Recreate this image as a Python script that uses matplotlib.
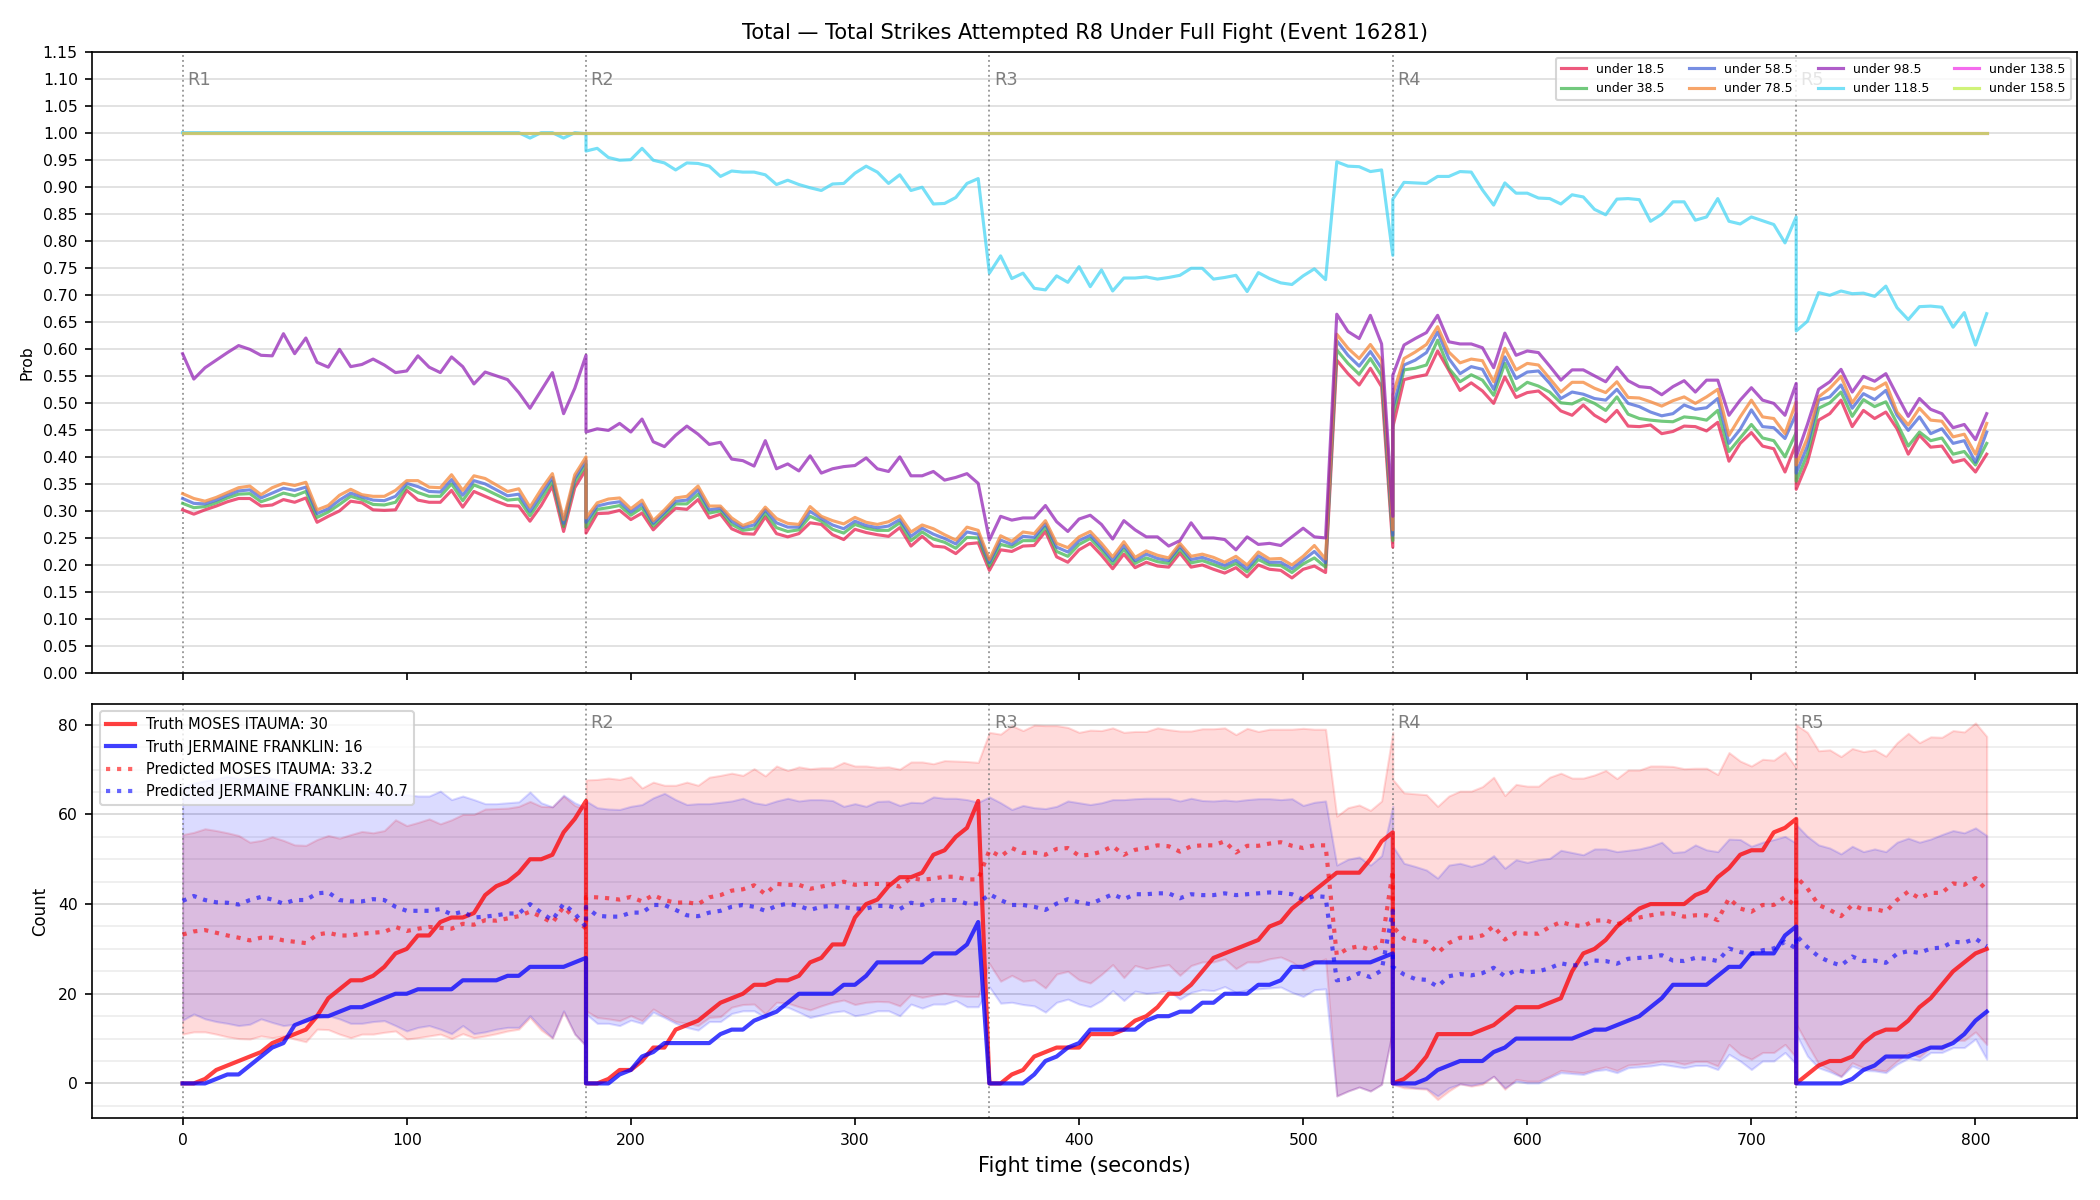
import numpy as np
import matplotlib
matplotlib.use("Agg")
import matplotlib.pyplot as plt
from matplotlib.ticker import MultipleLocator

# --- data -------------------------------------------------------------------
round_starts = [0, 180, 360, 540, 720]
round_names = ["R1", "R2", "R3", "R4", "R5"]

# sample times (s); round boundaries appear twice (end of one / start of next)
t_r1 = list(range(0, 181, 5))
t_r2 = list(range(180, 356, 5))
t_r3 = list(range(360, 541, 5))
t_r4 = list(range(540, 721, 5))
t_r5 = list(range(720, 806, 5))
seconds = t_r1 + t_r2 + t_r3 + t_r4 + t_r5

# P(total strikes attempted R8 under X)
u18 = ([0.302, 0.294, 0.302, 0.309, 0.317, 0.323, 0.323, 0.309, 0.311, 0.321, 0.316, 0.324, 0.279, 0.290, 0.300, 0.318, 0.315, 0.302, 0.301, 0.302, 0.338, 0.320, 0.316, 0.316, 0.338, 0.307, 0.336, 0.327, 0.318, 0.310, 0.309, 0.281, 0.310, 0.346, 0.262, 0.343, 0.377]
       + [0.259, 0.295, 0.296, 0.301, 0.284, 0.296, 0.265, 0.286, 0.305, 0.303, 0.321, 0.287, 0.294, 0.267, 0.258, 0.257, 0.289, 0.258, 0.252, 0.258, 0.278, 0.275, 0.256, 0.247, 0.266, 0.260, 0.256, 0.253, 0.269, 0.235, 0.253, 0.235, 0.233, 0.221, 0.239, 0.241]
       + [0.190, 0.228, 0.225, 0.235, 0.236, 0.262, 0.215, 0.205, 0.228, 0.240, 0.218, 0.193, 0.220, 0.195, 0.205, 0.198, 0.196, 0.222, 0.196, 0.200, 0.192, 0.185, 0.195, 0.178, 0.200, 0.192, 0.190, 0.176, 0.192, 0.198, 0.186, 0.579, 0.554, 0.533, 0.564, 0.530, 0.233]
       + [0.455, 0.543, 0.548, 0.552, 0.596, 0.560, 0.523, 0.537, 0.522, 0.499, 0.548, 0.510, 0.519, 0.522, 0.505, 0.485, 0.477, 0.496, 0.477, 0.465, 0.486, 0.457, 0.456, 0.459, 0.443, 0.447, 0.457, 0.456, 0.448, 0.464, 0.392, 0.425, 0.445, 0.420, 0.415, 0.372, 0.425]
       + [0.340, 0.390, 0.468, 0.480, 0.505, 0.456, 0.486, 0.471, 0.483, 0.452, 0.405, 0.440, 0.418, 0.420, 0.390, 0.395, 0.372, 0.405])
u38 = ([0.314, 0.306, 0.308, 0.315, 0.324, 0.331, 0.332, 0.317, 0.324, 0.333, 0.328, 0.336, 0.288, 0.298, 0.312, 0.327, 0.321, 0.312, 0.311, 0.316, 0.345, 0.334, 0.327, 0.327, 0.350, 0.319, 0.348, 0.340, 0.330, 0.320, 0.322, 0.291, 0.322, 0.355, 0.271, 0.353, 0.386]
       + [0.270, 0.303, 0.306, 0.310, 0.292, 0.306, 0.272, 0.292, 0.313, 0.313, 0.331, 0.296, 0.300, 0.275, 0.264, 0.267, 0.296, 0.269, 0.262, 0.265, 0.290, 0.281, 0.266, 0.259, 0.275, 0.268, 0.264, 0.264, 0.278, 0.245, 0.261, 0.248, 0.242, 0.231, 0.251, 0.250]
       + [0.198, 0.238, 0.233, 0.245, 0.245, 0.270, 0.225, 0.216, 0.238, 0.249, 0.227, 0.202, 0.229, 0.203, 0.213, 0.206, 0.203, 0.229, 0.204, 0.208, 0.201, 0.193, 0.203, 0.187, 0.210, 0.200, 0.199, 0.186, 0.202, 0.213, 0.196, 0.598, 0.573, 0.553, 0.582, 0.550, 0.245]
       + [0.475, 0.561, 0.564, 0.570, 0.616, 0.564, 0.539, 0.552, 0.542, 0.514, 0.573, 0.523, 0.538, 0.531, 0.520, 0.500, 0.498, 0.508, 0.499, 0.486, 0.511, 0.479, 0.471, 0.468, 0.466, 0.465, 0.474, 0.472, 0.468, 0.486, 0.410, 0.435, 0.460, 0.435, 0.430, 0.400, 0.445]
       + [0.355, 0.405, 0.490, 0.500, 0.520, 0.475, 0.506, 0.493, 0.502, 0.462, 0.420, 0.446, 0.430, 0.435, 0.405, 0.410, 0.385, 0.425])
u58 = ([0.323, 0.314, 0.313, 0.320, 0.329, 0.337, 0.339, 0.324, 0.333, 0.342, 0.338, 0.344, 0.295, 0.304, 0.320, 0.333, 0.326, 0.320, 0.319, 0.327, 0.351, 0.345, 0.336, 0.335, 0.358, 0.329, 0.356, 0.350, 0.339, 0.328, 0.331, 0.299, 0.331, 0.362, 0.277, 0.360, 0.393]
       + [0.279, 0.309, 0.314, 0.317, 0.298, 0.313, 0.277, 0.297, 0.318, 0.320, 0.339, 0.302, 0.305, 0.281, 0.269, 0.274, 0.302, 0.278, 0.270, 0.270, 0.299, 0.286, 0.274, 0.267, 0.281, 0.273, 0.269, 0.272, 0.284, 0.253, 0.268, 0.257, 0.249, 0.239, 0.261, 0.257]
       + [0.204, 0.246, 0.238, 0.253, 0.251, 0.276, 0.233, 0.224, 0.245, 0.255, 0.233, 0.208, 0.236, 0.208, 0.220, 0.212, 0.208, 0.235, 0.210, 0.214, 0.207, 0.199, 0.209, 0.193, 0.217, 0.205, 0.205, 0.193, 0.209, 0.225, 0.204, 0.615, 0.588, 0.568, 0.595, 0.564, 0.255]
       + [0.490, 0.570, 0.579, 0.593, 0.631, 0.582, 0.554, 0.567, 0.562, 0.525, 0.585, 0.545, 0.557, 0.559, 0.536, 0.508, 0.520, 0.516, 0.508, 0.505, 0.525, 0.499, 0.493, 0.483, 0.476, 0.480, 0.496, 0.488, 0.491, 0.508, 0.425, 0.451, 0.487, 0.456, 0.454, 0.434, 0.480]
       + [0.370, 0.420, 0.505, 0.511, 0.533, 0.490, 0.517, 0.506, 0.523, 0.477, 0.449, 0.474, 0.443, 0.452, 0.425, 0.430, 0.390, 0.446])
u78 = ([0.332, 0.323, 0.318, 0.325, 0.334, 0.343, 0.346, 0.330, 0.343, 0.351, 0.347, 0.353, 0.302, 0.310, 0.329, 0.340, 0.330, 0.327, 0.327, 0.338, 0.356, 0.356, 0.344, 0.343, 0.367, 0.338, 0.365, 0.360, 0.348, 0.336, 0.341, 0.307, 0.340, 0.369, 0.284, 0.367, 0.400]
       + [0.287, 0.315, 0.322, 0.324, 0.304, 0.320, 0.282, 0.302, 0.324, 0.327, 0.346, 0.309, 0.309, 0.287, 0.273, 0.281, 0.307, 0.286, 0.277, 0.275, 0.308, 0.290, 0.282, 0.276, 0.288, 0.279, 0.275, 0.280, 0.291, 0.261, 0.274, 0.267, 0.256, 0.246, 0.270, 0.264]
       + [0.210, 0.254, 0.244, 0.261, 0.258, 0.282, 0.240, 0.232, 0.252, 0.262, 0.240, 0.215, 0.243, 0.214, 0.226, 0.218, 0.213, 0.240, 0.216, 0.220, 0.214, 0.205, 0.216, 0.200, 0.224, 0.211, 0.212, 0.200, 0.216, 0.236, 0.211, 0.627, 0.601, 0.582, 0.608, 0.579, 0.265]
       + [0.515, 0.582, 0.594, 0.608, 0.641, 0.594, 0.574, 0.581, 0.578, 0.539, 0.601, 0.561, 0.573, 0.570, 0.545, 0.520, 0.538, 0.538, 0.527, 0.519, 0.539, 0.510, 0.509, 0.502, 0.494, 0.504, 0.511, 0.499, 0.511, 0.525, 0.440, 0.474, 0.505, 0.474, 0.471, 0.443, 0.502]
       + [0.385, 0.435, 0.511, 0.527, 0.549, 0.500, 0.530, 0.525, 0.537, 0.483, 0.459, 0.490, 0.468, 0.466, 0.437, 0.442, 0.405, 0.462])
u98 = ([0.591, 0.544, 0.565, 0.579, 0.593, 0.606, 0.599, 0.588, 0.587, 0.628, 0.591, 0.620, 0.575, 0.566, 0.599, 0.567, 0.571, 0.581, 0.570, 0.556, 0.559, 0.587, 0.566, 0.556, 0.585, 0.567, 0.535, 0.557, 0.550, 0.543, 0.519, 0.490, 0.523, 0.556, 0.480, 0.527, 0.588]
       + [0.446, 0.452, 0.449, 0.462, 0.446, 0.470, 0.428, 0.419, 0.440, 0.457, 0.442, 0.423, 0.427, 0.396, 0.393, 0.383, 0.430, 0.378, 0.387, 0.374, 0.402, 0.370, 0.378, 0.382, 0.384, 0.398, 0.378, 0.373, 0.400, 0.365, 0.365, 0.373, 0.357, 0.362, 0.369, 0.351]
       + [0.246, 0.290, 0.283, 0.287, 0.287, 0.310, 0.280, 0.262, 0.285, 0.292, 0.275, 0.248, 0.282, 0.265, 0.252, 0.252, 0.235, 0.245, 0.278, 0.250, 0.250, 0.247, 0.228, 0.252, 0.238, 0.240, 0.236, 0.252, 0.268, 0.252, 0.250, 0.664, 0.632, 0.619, 0.662, 0.609, 0.290]
       + [0.551, 0.607, 0.619, 0.630, 0.662, 0.613, 0.609, 0.609, 0.602, 0.565, 0.629, 0.588, 0.596, 0.593, 0.568, 0.542, 0.561, 0.561, 0.550, 0.539, 0.566, 0.541, 0.530, 0.528, 0.515, 0.530, 0.541, 0.520, 0.542, 0.542, 0.477, 0.505, 0.528, 0.505, 0.499, 0.477, 0.536]
       + [0.400, 0.460, 0.525, 0.539, 0.562, 0.520, 0.549, 0.540, 0.554, 0.514, 0.475, 0.508, 0.488, 0.480, 0.454, 0.460, 0.432, 0.480])
u118 = ([1.0] * 31 + [0.990, 1.0, 1.0, 0.990, 1.0, 0.998]
        + [0.966, 0.971, 0.954, 0.949, 0.950, 0.971, 0.949, 0.944, 0.931, 0.944, 0.943, 0.938, 0.919, 0.929, 0.927, 0.927, 0.922, 0.904, 0.912, 0.904, 0.898, 0.893, 0.905, 0.906, 0.925, 0.938, 0.927, 0.906, 0.922, 0.893, 0.899, 0.868, 0.869, 0.880, 0.906, 0.915]
        + [0.740, 0.772, 0.730, 0.740, 0.712, 0.709, 0.735, 0.723, 0.752, 0.715, 0.746, 0.707, 0.731, 0.731, 0.733, 0.729, 0.732, 0.736, 0.749, 0.749, 0.729, 0.732, 0.736, 0.706, 0.741, 0.730, 0.722, 0.719, 0.735, 0.748, 0.728, 0.946, 0.938, 0.937, 0.928, 0.931, 0.773]
        + [0.877, 0.908, 0.907, 0.906, 0.919, 0.919, 0.928, 0.927, 0.894, 0.866, 0.907, 0.888, 0.888, 0.879, 0.878, 0.868, 0.885, 0.881, 0.858, 0.848, 0.877, 0.878, 0.876, 0.836, 0.849, 0.872, 0.872, 0.838, 0.844, 0.878, 0.836, 0.831, 0.844, 0.837, 0.830, 0.796, 0.844]
        + [0.633, 0.651, 0.704, 0.699, 0.707, 0.702, 0.703, 0.697, 0.716, 0.676, 0.654, 0.678, 0.679, 0.677, 0.640, 0.667, 0.607, 0.665])
u138 = [1.0] * len(seconds)
u158 = [1.0] * len(seconds)

line_labels = ["under 18.5", "under 38.5", "under 58.5", "under 78.5",
               "under 98.5", "under 118.5", "under 138.5", "under 158.5"]
line_colors = ["#e6194b", "#3cb44b", "#4363d8", "#f58231",
               "#911eb4", "#42d4f4", "#f032e6", "#bfef45"]

# per-round cumulative counts
fighter_a = "MOSES ITAUMA"
fighter_b = "JERMAINE FRANKLIN"
truth_a = ([0, 0, 1, 3, 4, 5, 6, 7, 9, 10, 11, 12, 15, 19, 21, 23, 23, 24, 26, 29, 30, 33, 33, 36, 37, 37, 38, 42, 44, 45, 47, 50, 50, 51, 56, 59, 63]
           + [0, 0, 1, 3, 3, 5, 8, 8, 12, 13, 14, 16, 18, 19, 20, 22, 22, 23, 23, 24, 27, 28, 31, 31, 37, 40, 41, 44, 46, 46, 47, 51, 52, 55, 57, 63]
           + [0, 0, 2, 3, 6, 7, 8, 8, 8, 11, 11, 11, 12, 14, 15, 17, 20, 20, 22, 25, 28, 29, 30, 31, 32, 35, 36, 39, 41, 43, 45, 47, 47, 47, 50, 54, 56]
           + [0, 1, 3, 6, 11, 11, 11, 11, 12, 13, 15, 17, 17, 17, 18, 19, 25, 29, 30, 32, 35, 37, 39, 40, 40, 40, 40, 42, 43, 46, 48, 51, 52, 52, 56, 57, 59]
           + [0, 2, 4, 5, 5, 6, 9, 11, 12, 12, 14, 17, 19, 22, 25, 27, 29, 30])
truth_b = ([0, 0, 0, 1, 2, 2, 4, 6, 8, 9, 13, 14, 15, 15, 16, 17, 17, 18, 19, 20, 20, 21, 21, 21, 21, 23, 23, 23, 23, 24, 24, 26, 26, 26, 26, 27, 28]
           + [0, 0, 0, 2, 3, 6, 7, 9, 9, 9, 9, 9, 11, 12, 12, 14, 15, 16, 18, 20, 20, 20, 20, 22, 22, 24, 27, 27, 27, 27, 27, 29, 29, 29, 31, 36]
           + [0, 0, 0, 0, 2, 5, 6, 8, 9, 12, 12, 12, 12, 12, 14, 15, 15, 16, 16, 18, 18, 20, 20, 20, 22, 22, 23, 26, 26, 27, 27, 27, 27, 27, 27, 28, 29]
           + [0, 0, 0, 1, 3, 4, 5, 5, 5, 7, 8, 10, 10, 10, 10, 10, 10, 11, 12, 12, 13, 14, 15, 17, 19, 22, 22, 22, 22, 24, 26, 26, 29, 29, 29, 33, 35]
           + [0, 0, 0, 0, 0, 1, 3, 4, 6, 6, 6, 7, 8, 8, 9, 11, 14, 16])
pred_a = ([33.2, 33.9, 34.2, 33.6, 33.0, 32.5, 31.9, 32.5, 32.5, 31.9, 31.6, 31.3, 33.2, 33.6, 33.0, 33.0, 33.4, 33.6, 33.8, 34.9, 34.0, 34.5, 34.9, 34.7, 34.5, 35.6, 35.4, 36.4, 36.3, 36.8, 37.3, 38.3, 37.2, 35.8, 39.4, 36.8, 34.5]
          + [41.6, 41.5, 41.3, 41.0, 41.6, 40.6, 42.0, 40.9, 40.3, 40.4, 40.0, 41.5, 42.0, 43.0, 43.3, 44.2, 42.2, 44.5, 44.3, 44.3, 43.4, 43.9, 44.4, 45.0, 44.3, 44.5, 44.5, 44.5, 43.9, 45.8, 45.4, 45.7, 46.1, 46.1, 45.5, 45.5]
          + [52.0, 50.6, 52.5, 51.4, 51.5, 51.0, 52.3, 52.5, 50.8, 51.0, 51.7, 52.9, 51.0, 52.1, 52.5, 53.1, 52.9, 51.7, 52.9, 53.1, 53.1, 54.0, 51.5, 53.0, 53.0, 53.5, 53.8, 53.0, 52.5, 53.1, 53.1, 28.6, 30.1, 30.6, 29.8, 30.8, 47.5]
          + [35.0, 32.3, 31.8, 31.6, 29.1, 31.3, 32.5, 32.5, 33.0, 35.1, 32.1, 33.6, 33.4, 33.4, 34.9, 36.0, 35.3, 35.1, 36.3, 36.4, 35.5, 36.4, 37.0, 37.5, 37.9, 37.9, 37.2, 37.5, 37.5, 36.4, 41.3, 39.0, 38.3, 39.8, 39.8, 41.6, 39.4]
          + [46.1, 43.5, 39.8, 38.7, 37.3, 39.8, 38.8, 38.9, 38.3, 40.9, 42.8, 41.3, 42.5, 42.5, 44.6, 44.3, 45.8, 43.1])
pred_b = ([40.7, 41.8, 40.9, 40.4, 40.3, 39.9, 40.9, 41.6, 41.0, 40.1, 40.9, 40.9, 42.4, 42.6, 40.9, 40.6, 40.6, 41.1, 40.9, 39.4, 38.5, 38.5, 38.5, 38.9, 37.7, 38.3, 37.0, 37.2, 37.5, 37.9, 37.9, 40.0, 38.1, 36.4, 40.1, 37.9, 34.9]
          + [39.4, 37.4, 37.2, 37.2, 38.1, 38.1, 39.8, 39.8, 38.7, 37.5, 37.3, 38.1, 38.5, 39.4, 39.8, 39.4, 38.5, 39.6, 40.1, 39.6, 38.7, 39.4, 39.6, 39.3, 39.0, 39.0, 39.6, 39.6, 38.9, 40.3, 39.8, 40.9, 40.9, 40.9, 40.1, 40.1]
          + [42.2, 40.9, 39.8, 39.8, 39.4, 38.7, 40.1, 41.1, 40.4, 40.0, 41.1, 42.2, 41.1, 42.2, 42.2, 42.4, 42.4, 41.3, 42.2, 42.0, 42.0, 42.4, 42.0, 42.2, 42.4, 42.6, 42.5, 42.2, 41.0, 41.8, 41.6, 23.0, 23.3, 24.6, 23.7, 25.2, 38.5]
          + [26.0, 24.3, 23.3, 23.1, 21.6, 23.9, 24.4, 24.1, 24.6, 25.8, 23.9, 25.3, 24.8, 25.0, 25.7, 26.8, 26.3, 26.5, 27.4, 27.3, 26.7, 27.8, 28.0, 28.2, 28.6, 27.4, 27.3, 28.0, 27.8, 27.3, 30.1, 29.3, 28.9, 29.7, 30.1, 31.6, 30.1]
          + [33.0, 30.4, 28.3, 27.1, 26.3, 28.3, 27.3, 27.4, 26.9, 28.9, 29.5, 29.1, 30.1, 30.3, 31.6, 31.4, 32.3, 30.6])
hi_a = ([55.5, 56.0, 56.8, 56.4, 55.9, 55.3, 53.8, 54.2, 55.0, 54.2, 53.2, 53.1, 54.4, 55.3, 54.7, 55.5, 56.2, 55.9, 56.4, 58.8, 57.5, 58.2, 59.0, 57.9, 58.8, 60.0, 60.0, 61.2, 61.3, 61.4, 61.8, 62.9, 61.8, 61.7, 64.1, 62.0, 61.1]
        + [67.7, 67.8, 68.1, 67.8, 68.4, 65.9, 67.2, 66.5, 66.5, 67.2, 66.5, 68.3, 68.7, 69.2, 68.7, 70.2, 68.6, 70.8, 69.8, 70.6, 70.2, 70.4, 70.4, 71.6, 70.8, 70.8, 70.5, 70.6, 70.1, 71.7, 71.7, 71.3, 72.0, 71.9, 71.8, 71.6]
        + [78.3, 77.9, 79.8, 78.7, 79.9, 79.8, 79.8, 79.4, 78.3, 78.8, 78.7, 79.3, 78.3, 78.5, 78.5, 79.3, 78.9, 78.6, 78.6, 79.1, 79.1, 79.3, 77.8, 79.2, 78.5, 79.0, 79.0, 79.0, 79.2, 79.0, 79.0, 59.6, 61.5, 62.1, 60.9, 63.0, 78.3]
        + [67.8, 64.8, 64.6, 64.4, 61.8, 64.1, 65.2, 65.2, 66.2, 68.3, 64.2, 66.7, 66.3, 66.3, 68.3, 69.2, 68.1, 68.1, 68.8, 69.8, 68.0, 69.9, 69.9, 70.8, 70.8, 70.7, 70.2, 70.3, 70.3, 68.9, 73.8, 71.9, 70.8, 72.3, 72.1, 73.9, 70.4]
        + [80.0, 78.3, 74.2, 74.4, 72.9, 74.7, 74.0, 74.4, 73.0, 76.0, 78.1, 76.0, 77.3, 77.2, 78.7, 78.4, 80.4, 77.4])
lo_a = ([11.0, 11.5, 11.5, 11.0, 10.4, 10.0, 9.9, 10.6, 10.2, 10.6, 9.9, 9.3, 12.1, 12.0, 11.0, 10.2, 11.0, 11.0, 11.4, 11.7, 9.9, 10.2, 10.6, 11.0, 10.0, 11.1, 10.2, 10.6, 11.1, 11.7, 12.1, 14.7, 11.9, 10.1, 15.9, 11.0, 8.4]
        + [16.2, 14.7, 14.4, 14.0, 15.1, 14.0, 16.6, 15.1, 13.8, 13.4, 12.9, 14.7, 14.9, 17.0, 17.6, 17.7, 15.5, 18.1, 17.9, 17.1, 16.4, 17.3, 18.1, 18.6, 17.6, 18.1, 18.3, 18.2, 17.3, 19.8, 19.2, 19.7, 20.1, 19.6, 19.4, 19.4]
        + [26.7, 22.8, 24.1, 22.8, 23.1, 21.3, 24.4, 25.0, 23.1, 22.4, 24.3, 26.5, 23.6, 26.3, 25.6, 26.1, 26.5, 24.1, 26.3, 27.1, 27.1, 27.8, 25.6, 27.1, 27.1, 27.8, 28.2, 27.1, 25.3, 26.7, 27.8, -2.8, -1.7, -0.8, -1.7, -0.2, 12.0]
        + [-0.2, -1.0, -1.1, -1.3, -3.6, -1.7, -0.1, -0.6, -0.2, 1.6, -1.3, 0.9, 0.5, 0.5, 1.6, 2.9, 2.6, 2.4, 3.1, 3.7, 2.9, 4.1, 4.3, 4.6, 5.0, 4.9, 4.3, 4.9, 4.9, 3.9, 8.7, 6.5, 5.4, 6.9, 6.9, 8.7, 5.8]
        + [13.2, 8.7, 4.4, 3.1, 1.6, 4.6, 3.5, 3.1, 2.8, 5.0, 6.9, 5.9, 8.0, 7.6, 9.6, 9.6, 11.5, 8.7])
hi_b = ([66.0, 67.0, 67.5, 68.0, 68.5, 68.0, 68.3, 68.6, 68.0, 67.5, 67.0, 66.5, 66.8, 66.0, 65.5, 65.0, 65.3, 64.8, 64.5, 64.6, 64.4, 64.1, 64.1, 65.2, 63.3, 64.1, 63.3, 62.4, 62.4, 62.6, 62.8, 65.0, 62.6, 61.7, 64.3, 62.6, 61.5]
        + [63.0, 61.5, 61.2, 61.1, 61.8, 62.2, 63.7, 64.7, 63.3, 62.2, 62.4, 62.4, 62.7, 63.0, 63.6, 62.6, 62.2, 63.0, 63.6, 63.0, 63.3, 63.3, 63.1, 61.8, 62.4, 61.8, 62.9, 63.0, 62.0, 62.7, 62.6, 63.9, 63.6, 63.6, 63.3, 62.7]
        + [63.9, 62.6, 61.1, 62.0, 61.5, 61.3, 61.8, 63.0, 62.6, 62.2, 62.6, 63.3, 63.3, 63.5, 63.6, 63.6, 63.6, 63.0, 63.6, 63.1, 63.0, 63.2, 63.0, 63.3, 63.5, 63.5, 63.3, 63.5, 62.0, 62.7, 63.0, 48.7, 50.0, 50.5, 48.7, 50.8, 61.8]
        + [52.9, 49.1, 48.4, 47.6, 45.8, 48.7, 49.1, 48.4, 49.1, 50.8, 48.0, 49.9, 49.3, 49.9, 50.2, 52.0, 51.5, 51.0, 52.3, 52.3, 51.7, 52.0, 52.3, 52.9, 53.8, 51.5, 51.7, 53.2, 52.1, 51.7, 54.5, 54.4, 52.9, 53.8, 54.4, 55.1, 53.6]
        + [57.7, 55.1, 53.2, 52.5, 51.2, 52.9, 51.7, 52.3, 51.7, 53.8, 54.7, 53.8, 54.5, 55.5, 56.4, 55.9, 57.0, 55.3])
lo_b = ([14.1, 15.5, 14.4, 13.8, 13.4, 12.9, 13.2, 14.4, 13.6, 12.9, 13.2, 13.8, 14.7, 15.1, 14.4, 13.4, 13.4, 13.8, 14.0, 12.9, 11.7, 12.5, 12.9, 12.1, 11.1, 12.9, 11.1, 11.5, 12.1, 12.5, 12.5, 15.1, 12.5, 10.2, 16.2, 11.0, 8.4]
        + [15.5, 13.4, 13.4, 12.9, 14.1, 13.4, 15.9, 14.7, 13.4, 12.5, 11.9, 13.8, 13.8, 15.6, 16.2, 16.2, 14.7, 17.1, 17.0, 15.9, 14.7, 15.3, 15.9, 16.2, 15.1, 15.5, 16.2, 16.2, 15.1, 17.7, 16.8, 17.7, 17.7, 18.5, 17.1, 17.1]
        + [21.5, 17.9, 18.1, 17.6, 17.3, 15.9, 18.1, 18.8, 17.7, 17.1, 18.5, 20.7, 18.5, 20.6, 20.1, 20.3, 20.7, 18.8, 20.3, 20.9, 20.7, 21.6, 20.3, 20.9, 21.1, 21.3, 21.5, 20.3, 19.4, 20.9, 21.1, -2.8, -1.7, -0.8, -1.7, -0.2, 12.1]
        + [-0.2, -0.6, -1.0, -1.1, -2.8, -1.0, -0.1, -0.4, 0.1, 1.6, -1.0, 0.5, 0.1, 0.1, 1.3, 2.4, 2.2, 2.0, 2.8, 3.1, 2.4, 3.5, 3.7, 3.9, 4.3, 3.9, 3.5, 4.0, 4.0, 3.1, 6.5, 5.0, 3.1, 5.0, 5.0, 6.9, 4.3]
        + [11.0, 6.1, 3.5, 2.6, 1.5, 3.9, 2.9, 2.8, 2.4, 4.3, 5.6, 5.2, 6.9, 6.9, 8.0, 8.0, 9.9, 5.4])

# --- plot -------------------------------------------------------------------
fig, (ax1, ax2) = plt.subplots(2, 1, figsize=(14, 8), dpi=150, sharex=True,
                               gridspec_kw={"height_ratios": [3, 2]})
fig.subplots_adjust(left=0.044, right=0.989, top=0.957, bottom=0.068, hspace=0.06)

top_series = [u18, u38, u58, u78, u98, u118, u138, u158]
for vals, lab, col in zip(top_series, line_labels, line_colors):
    ax1.plot(seconds, vals, color=col, lw=1.5, alpha=0.72, label=lab)

ax1.set_ylim(0, 1.15)
ax1.set_yticks(np.arange(0, 1.151, 0.05))
ax1.yaxis.set_major_formatter(plt.FormatStrFormatter("%.2f"))
ax1.set_ylabel("Prob", fontsize=7.5)
ax1.grid(axis="y", color="#dddddd", lw=0.8)
ax1.set_title("Total \u2014 Total Strikes Attempted R8 Under Full Fight (Event 16281)", fontsize=10)
ax1.legend(loc="upper right", ncol=4, fontsize=6)

# bottom panel
ax2.fill_between(seconds, lo_a, hi_a, color="red", alpha=0.14)
ax2.fill_between(seconds, lo_b, hi_b, color="blue", alpha=0.14)
ax2.plot(seconds, truth_a, color="red", lw=2, alpha=0.75,
         label=f"Truth {fighter_a}: {truth_a[-1]}")
ax2.plot(seconds, truth_b, color="blue", lw=2, alpha=0.75,
         label=f"Truth {fighter_b}: {truth_b[-1]}")
ax2.plot(seconds, pred_a, color="red", lw=2, ls=":", alpha=0.6,
         label=f"Predicted {fighter_a}: {pred_a[0]:.1f}")
ax2.plot(seconds, pred_b, color="blue", lw=2, ls=":", alpha=0.6,
         label=f"Predicted {fighter_b}: {pred_b[0]:.1f}")

ax2.yaxis.set_minor_locator(MultipleLocator(5))
ax2.tick_params(axis="y", which="minor", length=0)
ax2.grid(axis="y", which="major", color="#d5d5d5", lw=0.8)
ax2.grid(axis="y", which="minor", color="#ececec", lw=0.8)
ax2.set_ylabel("Count", fontsize=8)
ax2.set_xlabel("Fight time (seconds)", fontsize=10)
ax2.legend(loc="upper left", fontsize=7)

for ax in (ax1, ax2):
    ax.set_axisbelow(True)
    ax.tick_params(labelsize=7.5)
    for x0, name in zip(round_starts, round_names):
        ax.axvline(x0, color="gray", ls=":", lw=0.9, alpha=0.8, zorder=1)
        # R1 in the lower panel sits under the legend, so it is left out there
        if ax is ax2 and x0 == 0:
            continue
        ax.text(x0 + 2, 0.955, name, transform=ax.get_xaxis_transform(),
                va="center", ha="left", color="dimgray", fontsize=8.5, alpha=0.85, zorder=1)

fig.savefig("out.png", dpi=150)
